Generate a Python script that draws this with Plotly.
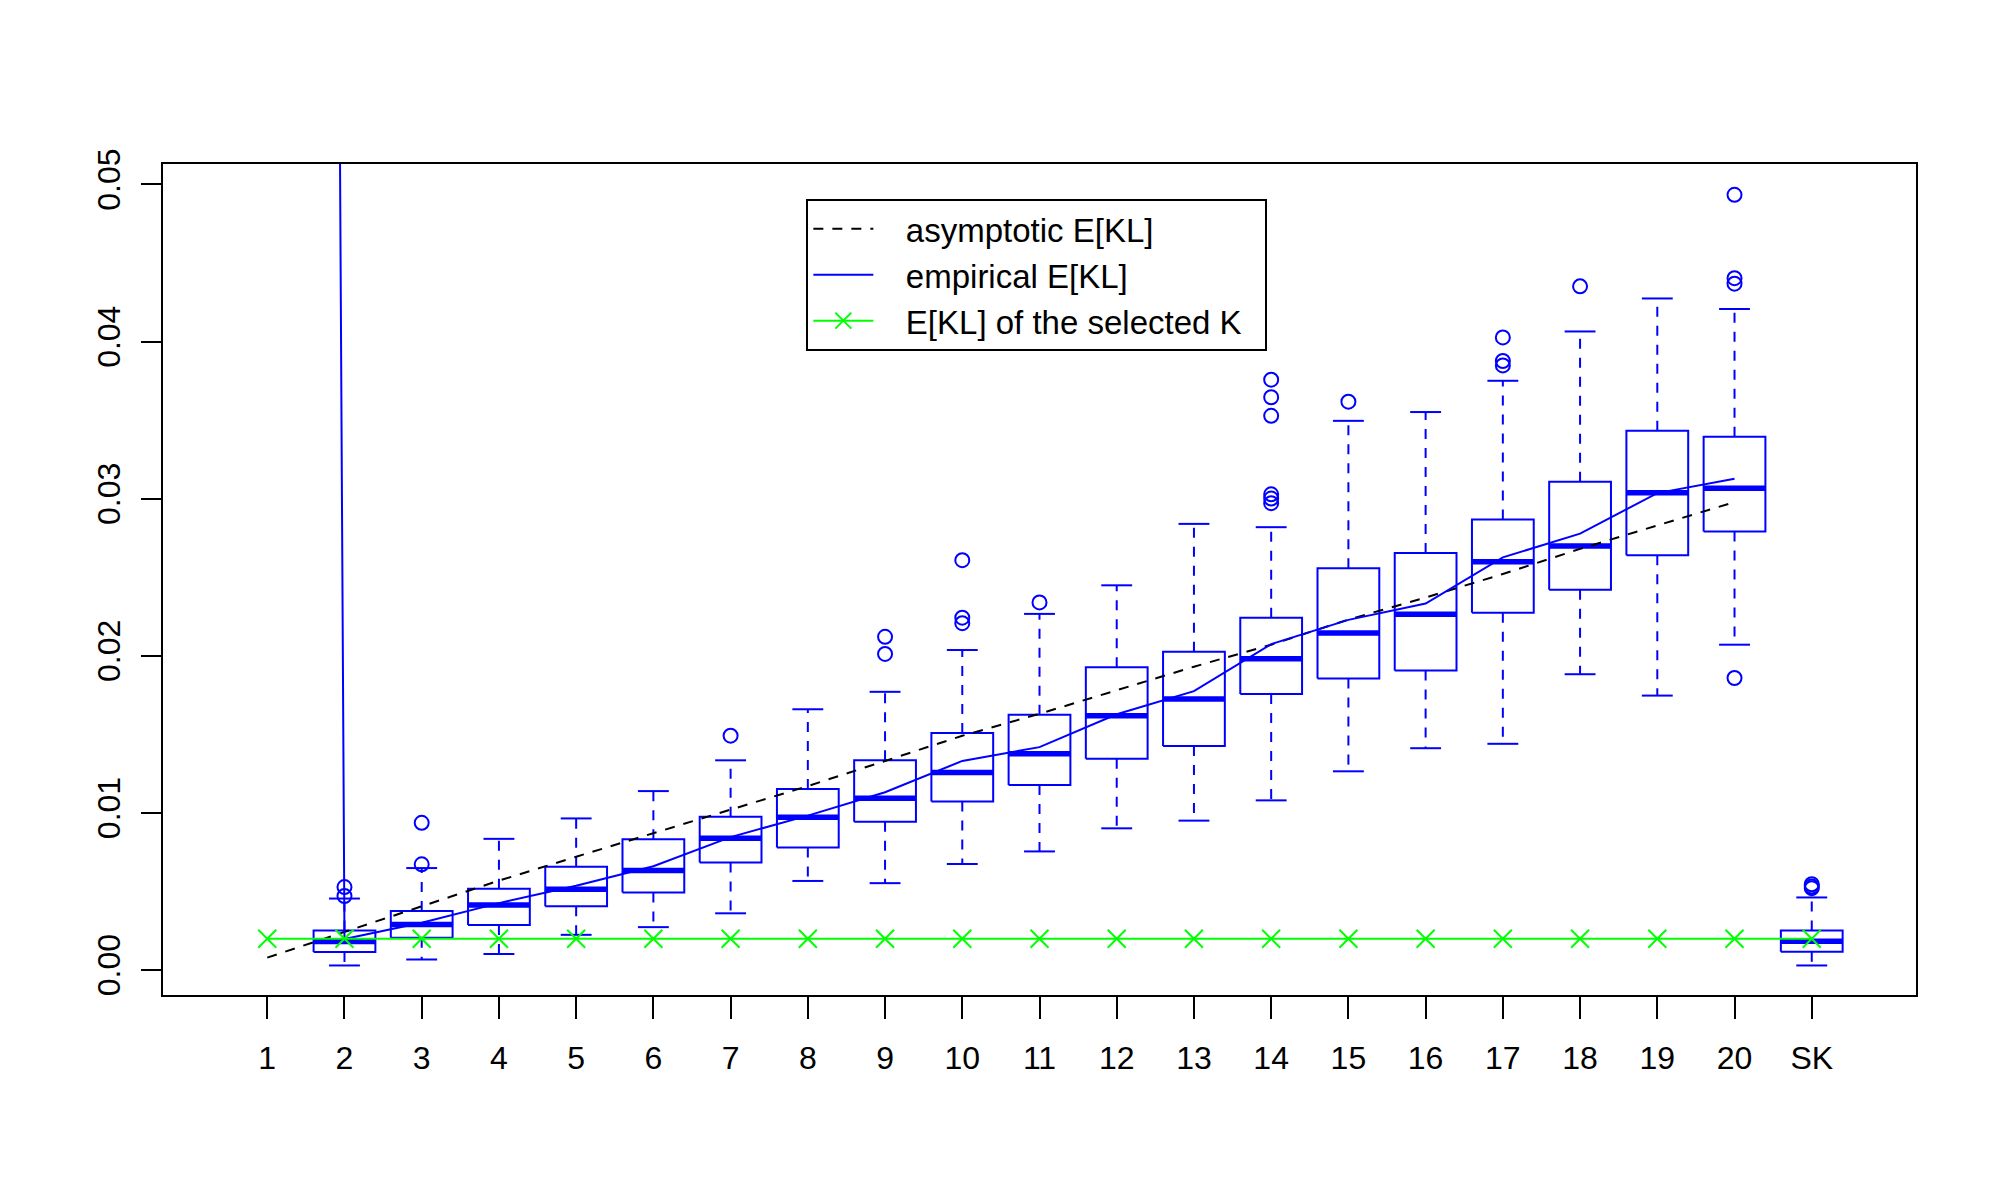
import plotly.graph_objects as go

# ---------------- data ----------------
categories = ["1", "2", "3", "4", "5", "6", "7", "8", "9", "10",
              "11", "12", "13", "14", "15", "16", "17", "18", "19", "20", "SK"]

# box statistics per category (None = no box drawn / off-chart)
box_q1 = [None, 0.00114, 0.00204, 0.00286, 0.00405, 0.00492, 0.00684, 0.00779,
          0.00943, 0.01072, 0.01177, 0.01344, 0.01425, 0.01756, 0.01854,
          0.01906, 0.02273, 0.02420, 0.02640, 0.02790, 0.00115]
box_median = [None, 0.00180, 0.00289, 0.00413, 0.00513, 0.00632, 0.00838, 0.00971,
              0.01093, 0.01257, 0.01376, 0.01617, 0.01725, 0.01980, 0.02144,
              0.02263, 0.02598, 0.02699, 0.03038, 0.03066, 0.00182]
box_q3 = [None, 0.00251, 0.00374, 0.00517, 0.00656, 0.00831, 0.00974, 0.01152,
          0.01334, 0.01508, 0.01624, 0.01927, 0.02025, 0.02242, 0.02556,
          0.02654, 0.02867, 0.03108, 0.03432, 0.03394, 0.00251]
whisker_low = [None, 0.00028, 0.00066, 0.00101, 0.00223, 0.00272, 0.00360, 0.00566,
               0.00552, 0.00674, 0.00754, 0.00901, 0.00950, 0.01079, 0.01264,
               0.01411, 0.01439, 0.01882, 0.01746, 0.02070, 0.00028]
whisker_high = [None, 0.00454, 0.00648, 0.00834, 0.00964, 0.01138, 0.01334, 0.01659,
                0.01770, 0.02036, 0.02266, 0.02448, 0.02839, 0.02818, 0.03495,
                0.03551, 0.03750, 0.04064, 0.04274, 0.04207, 0.00461]
outliers = [[], [0.00527, 0.00470], [0.00936, 0.00672], [], [], [], [0.01491], [],
            [0.02120, 0.02011], [0.02608, 0.02242, 0.02207], [0.02339], [], [],
            [0.03757, 0.03645, 0.03527, 0.03027, 0.03000, 0.02971], [0.03617], [],
            [0.04026, 0.03876, 0.03848], [0.04351], [],
            [0.04934, 0.04403, 0.04368, 0.01858], [0.00545, 0.00530, 0.00520]]

# lines (K = 1..20)
asymptotic_ekl = [0.00078, 0.00240, 0.00405, 0.00568, 0.00720, 0.00870, 0.01020,
                  0.01170, 0.01330, 0.01490, 0.01630, 0.01780, 0.01930, 0.02070,
                  0.02230, 0.02370, 0.02520, 0.02680, 0.02830, 0.02978]
empirical_ekl = [0.86, 0.00197, 0.00300, 0.00425, 0.00535, 0.00660, 0.00845,
                 0.00982, 0.01131, 0.01330, 0.01418, 0.01627, 0.01774, 0.02074,
                 0.02228, 0.02332, 0.02626, 0.02777, 0.03035, 0.03127]
# K = 1..20 and SK
selected_ekl = [0.00198] * 21

series_names = ["asymptotic E[KL]", "empirical E[KL]", "E[KL] of the selected K"]

y_tick_vals = [0.00, 0.01, 0.02, 0.03, 0.04, 0.05]
y_tick_text = ["0.00", "0.01", "0.02", "0.03", "0.04", "0.05"]

# ---------------- styling ----------------
BLUE = "#0000FF"
GREEN = "#00FF00"
BLACK = "#000000"
BOX_W = 0.8
STAPLE_W = 0.4
FONT = "Liberation Sans, Arial, Helvetica, sans-serif"
LEAD = "\u00a0" * 3     # legend spacing between symbol and text
TRAIL = "\u00a0" * 2    # legend right padding

pos = list(range(1, len(categories) + 1))

rect_x, rect_y = [], []
med_x, med_y = [], []
wh_x, wh_y = [], []
st_x, st_y = [], []
out_x, out_y = [], []
for i, p in enumerate(pos):
    for o in outliers[i]:
        out_x.append(p)
        out_y.append(o)
    if box_q1[i] is None:
        continue
    l, r = p - BOX_W / 2, p + BOX_W / 2
    rect_x += [l, r, r, l, l, None]
    rect_y += [box_q1[i], box_q1[i], box_q3[i], box_q3[i], box_q1[i], None]
    med_x += [l, r, None]
    med_y += [box_median[i], box_median[i], None]
    wh_x += [p, p, None, p, p, None]
    wh_y += [box_q3[i], whisker_high[i], None, box_q1[i], whisker_low[i], None]
    sl, sr = p - STAPLE_W / 2, p + STAPLE_W / 2
    st_x += [sl, sr, None, sl, sr, None]
    st_y += [whisker_high[i], whisker_high[i], None, whisker_low[i], whisker_low[i], None]

fig = go.Figure()
fig.add_trace(go.Scatter(x=wh_x, y=wh_y, mode="lines", showlegend=False, hoverinfo="skip",
                         line=dict(color=BLUE, width=2, dash="10px,9px")))
fig.add_trace(go.Scatter(x=st_x, y=st_y, mode="lines", showlegend=False, hoverinfo="skip",
                         line=dict(color=BLUE, width=2)))
fig.add_trace(go.Scatter(x=rect_x, y=rect_y, mode="lines", showlegend=False, hoverinfo="skip",
                         line=dict(color=BLUE, width=2)))
fig.add_trace(go.Scatter(x=med_x, y=med_y, mode="lines", showlegend=False, hoverinfo="skip",
                         line=dict(color=BLUE, width=5.5)))
fig.add_trace(go.Scatter(x=out_x, y=out_y, mode="markers", showlegend=False, hoverinfo="skip",
                         marker=dict(symbol="circle-open", size=14, color=BLUE,
                                     line=dict(color=BLUE, width=2))))

fig.add_trace(go.Scatter(x=pos[:len(asymptotic_ekl)], y=asymptotic_ekl, mode="lines",
                         name=LEAD + series_names[0],
                         line=dict(color=BLACK, width=2, dash="10px,9px")))
fig.add_trace(go.Scatter(x=pos[:len(empirical_ekl)], y=empirical_ekl, mode="lines",
                         name=LEAD + series_names[1],
                         line=dict(color=BLUE, width=2)))
fig.add_trace(go.Scatter(x=pos[:len(selected_ekl)], y=selected_ekl, mode="lines+markers",
                         name=LEAD + series_names[2] + TRAIL,
                         line=dict(color=GREEN, width=2),
                         marker=dict(symbol="x-thin", size=18, color=GREEN,
                                     line=dict(color=GREEN, width=2))))

axis_common = dict(showline=True, linewidth=2, linecolor=BLACK, mirror=True,
                   ticks="outside", tickwidth=2, tickcolor=BLACK,
                   showgrid=False, zeroline=False,
                   tickfont=dict(family=FONT, size=32, color=BLACK))

fig.update_layout(
    width=2000, height=1200,
    margin=dict(l=163, r=84, t=164, b=205),
    paper_bgcolor="white", plot_bgcolor="white",
    font=dict(family=FONT, size=32, color=BLACK),
    xaxis=dict(range=[-0.35, 22.35], tickmode="array", tickvals=pos, ticktext=categories,
               ticklen=22, ticklabelstandoff=12, **axis_common),
    yaxis=dict(range=[-0.0016, 0.0513], tickmode="array", tickvals=y_tick_vals,
               ticktext=y_tick_text, tickangle=-90, ticklen=20, ticklabelstandoff=8,
               **axis_common),
    legend=dict(x=0.367, y=0.958, xanchor="left", yanchor="top",
                bgcolor="white", bordercolor=BLACK, borderwidth=2,
                font=dict(family=FONT, size=33, color=BLACK),
                itemwidth=60, tracegroupgap=0),
    showlegend=True,
)

fig.write_html("out.html")
